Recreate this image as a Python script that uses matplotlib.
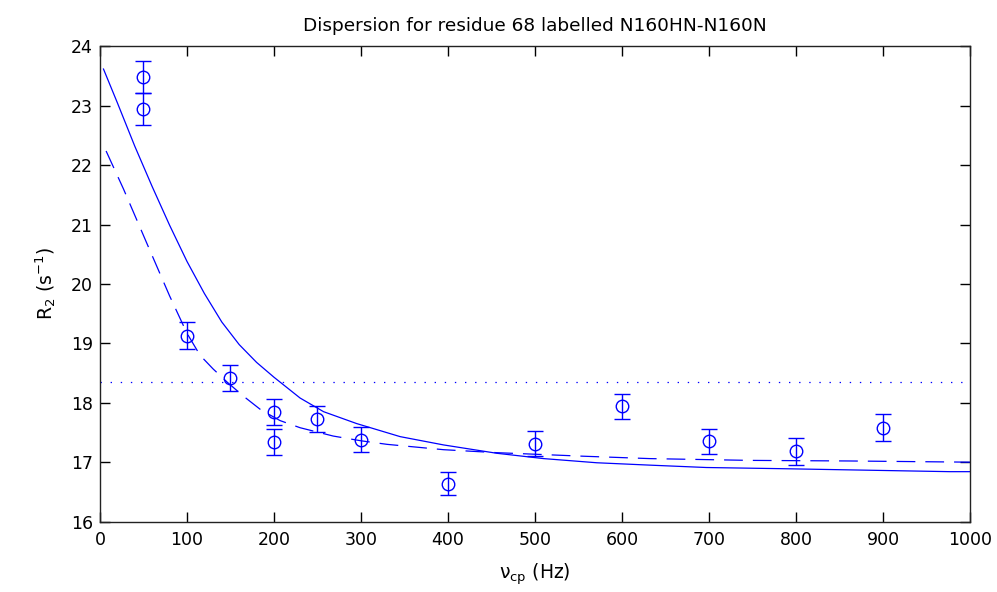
import matplotlib
matplotlib.use("Agg")
from matplotlib import pyplot as plt
import numpy as np

# measured points (Hz, s^-1)
nu_cp = [50, 50, 100, 150, 200, 200, 250, 300, 400, 500, 600, 700, 800, 900]
r2 = [23.48, 22.94, 19.13, 18.42, 17.85, 17.34, 17.72, 17.38, 16.64,
      17.31, 17.94, 17.35, 17.18, 17.58]
r2_err = [0.27, 0.27, 0.23, 0.22, 0.22, 0.22, 0.22, 0.21, 0.20,
          0.21, 0.21, 0.21, 0.22, 0.23]

# fitted curves
solid_x = [4, 20, 40, 60, 80, 100, 120, 140, 160, 180, 200, 230, 257, 295,
           345, 395, 456, 510, 571, 632, 697, 785, 862, 977, 1000]
fit_solid = [23.62, 23.05, 22.32, 21.64, 20.99, 20.38, 19.84, 19.36, 18.98,
             18.68, 18.43, 18.08, 17.85, 17.65, 17.43, 17.29, 17.15, 17.06,
             16.99, 16.95, 16.91, 16.89, 16.87, 16.84, 16.84]
dash_x = [7, 27, 54, 80, 100, 115, 130, 146, 165, 185, 207, 230, 268, 300,
          330, 395, 456, 556, 632, 747, 862, 1000]
fit_dash = [22.24, 21.60, 20.68, 19.80, 19.17, 18.80, 18.57, 18.35, 18.11,
            17.88, 17.70, 17.58, 17.44, 17.36, 17.30, 17.21, 17.16, 17.10,
            17.06, 17.03, 17.02, 17.0]
r2_const = 18.35

plt.rcParams["font.family"] = ["DejaVu Sans"]
plt.rcParams["mathtext.default"] = "regular"

fig = plt.figure(figsize=(9.97, 5.92), dpi=100)
ax = fig.add_axes([0.1003, 0.119, 0.8726, 0.8025])

blue = (0, 0, 1)
ax.errorbar(nu_cp, r2, yerr=r2_err, fmt="o", color=blue, mfc="none",
            ms=9, mew=1.0, elinewidth=1.0, capsize=6, capthick=1.0)
ax.plot(solid_x, fit_solid, color=blue, lw=0.9)
ax.plot(dash_x, fit_dash, color=blue, lw=0.9, dashes=(15, 8))
ax.plot([0, 1000], [r2_const, r2_const], color=blue, lw=0.9,
        dashes=(1.1, 7.0))

ax.set_xlim(0, 1000)
ax.set_ylim(16, 24)
ax.set_xticks(np.arange(0, 1001, 100))
ax.set_yticks(np.arange(16, 25, 1))
ax.tick_params(direction="in", length=7, width=1, top=True, right=True,
               labelsize=12.5, colors="black")
ax.tick_params(axis="x", pad=7)
ax.tick_params(axis="y", pad=5)
for s in ax.spines.values():
    s.set_linewidth(1.0)
    s.set_color("#222222")

ax.set_title("Dispersion for residue 68 labelled N160HN-N160N",
             fontsize=13.3, pad=11)
ax.set_xlabel(r"$\nu_{cp}$ (Hz)", fontsize=13.5, labelpad=9)
ax.set_ylabel(r"$R_2$ (s$^{-1}$)", fontsize=13.5, labelpad=9)

fig.savefig("out.png", dpi=100)
